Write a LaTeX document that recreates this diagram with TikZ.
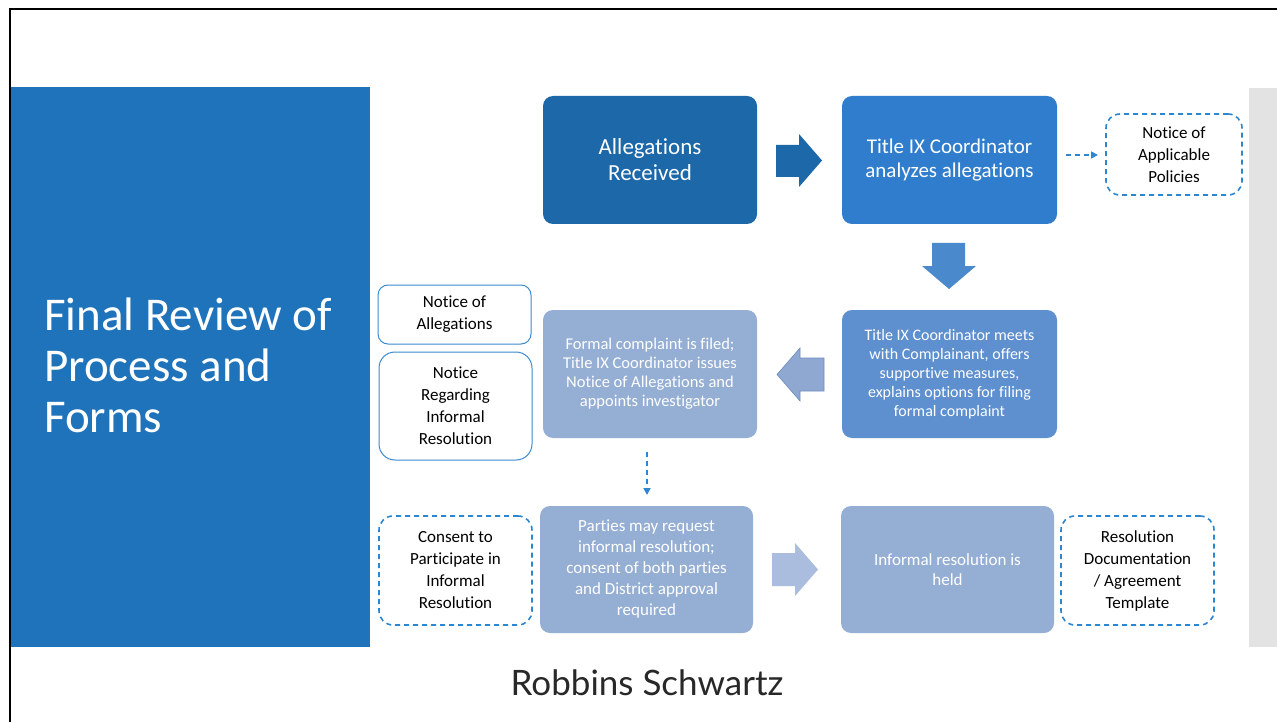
\documentclass[tikz,border=0pt]{standalone}
\usepackage{fontspec}
\setmainfont{Carlito}[RawFeature={-liga;-dlig}]
\newfontfamily\brandfont{Lato}
\usetikzlibrary{arrows.meta}
\definecolor{panelblue}{RGB}{31,115,186}
\definecolor{darkbox}{RGB}{28,104,168}
\definecolor{midbox}{RGB}{47,125,204}
\definecolor{meetbox}{RGB}{94,143,207}
\definecolor{lightbox}{RGB}{149,174,212}
\definecolor{dashblue}{RGB}{45,134,208}
\definecolor{outlineblue}{RGB}{60,138,208}
\definecolor{downarrow}{RGB}{74,137,204}
\definecolor{leftarrow}{RGB}{143,168,209}
\definecolor{leftedge}{RGB}{110,140,190}
\definecolor{rightarrow}{RGB}{170,189,222}
\definecolor{graybar}{RGB}{227,227,227}
\definecolor{brandgray}{RGB}{40,40,40}
\tikzset{
  procbox/.style={rounded corners=10pt, minimum width=214pt, minimum height=128pt, align=center, text=white, inner sep=4pt},
  formbox/.style={rounded corners=12pt, draw=outlineblue, line width=1pt, align=center, text=black, font=\fontsize{17}{22}\selectfont},
  dashbox/.style={rounded corners=14pt, draw=dashblue, line width=1.6pt, dash pattern=on 5pt off 4pt, align=center, text=black, font=\fontsize{17}{22}\selectfont},
  dasharrow/.style={draw=dashblue, line width=1.6pt, dash pattern=on 5pt off 4pt, -{Triangle[length=7pt,width=7pt]}}
}
\begin{document}
\begin{tikzpicture}[x=1pt,y=-1pt]
\useasboundingbox (0,0) rectangle (1277,722);
\fill[white] (0,0) rectangle (1277,722);
% frame
\draw[black, line width=2.5pt] (10,722) -- (10,9) -- (1277,9);
% left panel
\fill[panelblue] (11,87) rectangle (370,647);
\node[anchor=base west, text=white, align=left, font=\fontsize{47}{51}\selectfont, inner sep=0pt] (title) at (44,432) {Final Review of\\Process and\\Forms};
% right gray bar
\fill[graybar] (1249,88) rectangle (1277,647);
% process boxes
\node[procbox, fill=darkbox, font=\fontsize{23}{26}\selectfont] (alleg) at (650,160) {Allegations\\Received};
\node[procbox, fill=midbox, minimum width=215pt, font=\fontsize{21}{24}\selectfont] (analyze) at (949.5,160) {Title IX Coordinator\\analyzes allegations};
\node[procbox, fill=meetbox, minimum width=215pt, font=\fontsize{16}{19}\selectfont] (meets) at (949.5,374) {Title IX Coordinator meets\\with Complainant, offers\\supportive measures,\\explains options for filing\\formal complaint};
\node[procbox, fill=lightbox, font=\fontsize{16.5}{19}\selectfont] (formal) at (650,374) {Formal complaint is filed;\\Title IX Coordinator issues\\Notice of Allegations and\\appoints investigator};
\node[procbox, fill=lightbox, minimum width=213pt, minimum height=127pt, font=\fontsize{17}{21}\selectfont] (parties) at (646.5,569.5) {Parties may request\\informal resolution;\\consent of both parties\\and District approval\\required};
\node[procbox, fill=lightbox, minimum width=213pt, minimum height=127pt, font=\fontsize{17}{20}\selectfont] (held) at (947.5,569.5) {Informal resolution is\\held};
% form boxes
\node[dashbox, minimum width=136pt, minimum height=81pt] (policies) at (1174,154.5) {Notice of\\Applicable\\Policies};
\node[formbox, minimum width=153pt, minimum height=59pt, rounded corners=10pt] (noa) at (454.5,314.5) {Notice of\\Allegations};
\node[formbox, minimum width=153pt, minimum height=108pt, rounded corners=16pt] (nrir) at (455.5,406) {Notice\\Regarding\\Informal\\Resolution};
\node[dashbox, minimum width=153pt, minimum height=109pt] (consent) at (455.5,570.5) {Consent to\\Participate in\\Informal\\Resolution};
\node[dashbox, minimum width=153pt, minimum height=109pt] (resdoc) at (1137.5,570.5) {Resolution\\Documentation\\/ Agreement\\Template};
% block arrows
\fill[darkbox] (776,145) -- (799,145) -- (799,134) -- (822,160.5) -- (799,187) -- (799,177) -- (776,177) -- cycle;
\fill[downarrow] (932,243) -- (965,243) -- (965,266) -- (976,266) -- (949,289) -- (922,266) -- (932,266) -- cycle;
\filldraw[fill=leftarrow, draw=leftedge, line width=0.6pt] (824,358) -- (800,358) -- (800,348) -- (777,374.5) -- (800,401) -- (800,391) -- (824,391) -- cycle;
\fill[rightarrow] (772,553) -- (795,553) -- (795,543) -- (818,569.5) -- (795,596) -- (795,586) -- (772,586) -- cycle;
% dashed connectors
\coordinate (a1) at (1066,155);
\coordinate (a2) at (1098,155);
\draw[dasharrow] (a1) -- (a2);
\coordinate (b1) at (647,452);
\coordinate (b2) at (647,495);
\draw[dasharrow] (b1) -- (b2);
% brand
\node[text=brandgray, font=\brandfont\fontsize{35}{40}\selectfont, anchor=base, inner sep=0pt] (brand) at (647,695) {Robbins Schwartz};
\end{tikzpicture}
\end{document}
